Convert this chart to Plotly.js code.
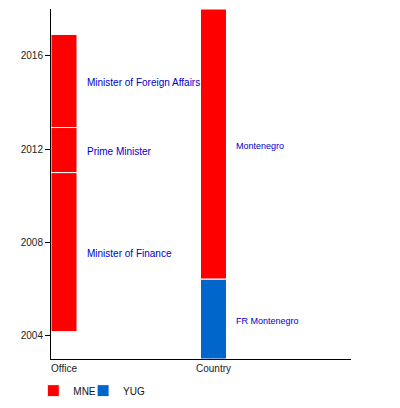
<!DOCTYPE html>
<html>
<head>
<meta charset="utf-8">
<script src="https://cdn.plot.ly/plotly-3.0.1.min.js"></script>
<style>html,body{margin:0;padding:0;background:#fff}#chart{width:400px;height:408px}</style>
</head>
<body>
<div id="chart"></div>
<script>
// Office segments (all MNE)
var officeLabels = ['Minister of Finance', 'Prime Minister', 'Minister of Foreign Affairs'];
var officeStart = [2004.17, 2010.99, 2012.92];
var officeEnd = [2010.99, 2012.92, 2016.91];
// Country segments
var countryLabels = ['FR Montenegro', 'Montenegro'];
var countryCodes = ['YUG', 'MNE'];
var countryStart = [2003.0, 2006.42];
var countryEnd = [2006.42, 2018.0];
var categories = ['Office', 'Country'];
var yTicks = [2004, 2008, 2012, 2016];

var colors = {MNE: '#ff0000', YUG: '#0066cc'};
var legendRefs = {MNE: 'legend', YUG: 'legend2'};

function buildTrace(code) {
  var x = [], base = [], y = [];
  if (code === 'MNE') {
    for (var i = 0; i < officeStart.length; i++) {
      x.push(categories[0]); base.push(officeStart[i]); y.push(officeEnd[i] - officeStart[i]);
    }
  }
  for (var j = 0; j < countryCodes.length; j++) {
    if (countryCodes[j] === code) {
      x.push(categories[1]); base.push(countryStart[j]); y.push(countryEnd[j] - countryStart[j]);
    }
  }
  return {
    type: 'bar', name: code, x: x, y: y, base: base, width: 0.174,
    legend: legendRefs[code],
    marker: {color: colors[code], line: {color: '#ffffff', width: 1}},
    hoverinfo: 'skip'
  };
}

var traces = [buildTrace('MNE'), buildTrace('YUG')];

var annotations = [];
for (var i = 0; i < officeLabels.length; i++) {
  annotations.push({x: categories[0], y: (officeStart[i] + officeEnd[i]) / 2, text: officeLabels[i],
    xanchor: 'left', yanchor: 'middle', xshift: 21, yshift: -1.5, showarrow: false,
    font: {size: 10, color: '#0000cc'}});
}
for (var j = 0; j < countryLabels.length; j++) {
  annotations.push({x: categories[1], y: (countryStart[j] + countryEnd[j]) / 2, text: countryLabels[j],
    xanchor: 'left', yanchor: 'middle', xshift: 21, yshift: -1.5, showarrow: false,
    font: {size: 9, color: '#0000cc'}});
}

var legendBase = {orientation: 'h', xanchor: 'left', y: -0.049, yanchor: 'top',
  font: {size: 10, color: '#111111'}, bgcolor: 'rgba(0,0,0,0)'};

var layout = {
  width: 400, height: 408,
  margin: {l: 51, r: 49, t: 9, b: 49, autoexpand: false},
  paper_bgcolor: '#ffffff', plot_bgcolor: '#ffffff',
  font: {family: 'Liberation Sans, Arial, sans-serif', size: 10, color: '#222222'},
  barmode: 'overlay',
  showlegend: true,
  legend: Object.assign({}, legendBase, {x: -0.059}),
  legend2: Object.assign({}, legendBase, {x: 0.107}),
  xaxis: {type: 'category', categoryorder: 'array', categoryarray: categories,
    range: [-0.087, 1.92], showline: true, linecolor: '#000000', linewidth: 1,
    ticks: '', showgrid: false, zeroline: false, fixedrange: true},
  yaxis: {range: [2003, 2018], tickvals: yTicks, ticktext: yTicks.map(String),
    showline: true, linecolor: '#000000', linewidth: 1, ticks: 'outside', ticklen: 5,
    tickcolor: '#000000', showgrid: false, zeroline: false, fixedrange: true},
  annotations: annotations
};

Plotly.newPlot('chart', traces, layout, {displayModeBar: false, staticPlot: true});
</script>
</body>
</html>
